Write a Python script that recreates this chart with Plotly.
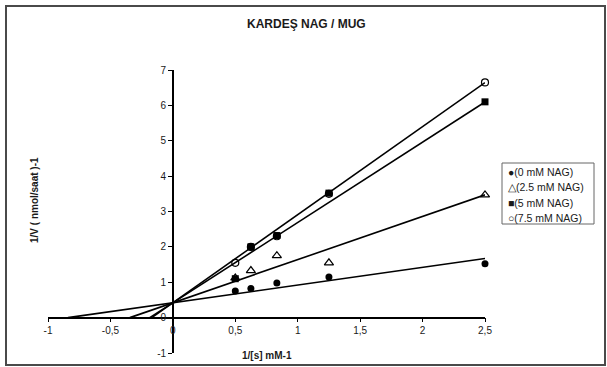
import plotly.graph_objects as go

# Lineweaver-Burk data: 1/[S] (mM^-1) vs 1/V ((nmol/saat)^-1)
inv_s = [0.5, 0.625, 0.833, 1.25, 2.5]
series_names = ["(0 mM NAG)", "(2.5 mM NAG)", "(5 mM NAG)", "(7.5 mM NAG)"]
inv_v_0 = [0.75, 0.82, 0.98, 1.15, 1.52]
inv_v_25 = [1.12, 1.33, 1.75, 1.55, 3.47]
inv_v_5 = [1.10, 2.00, 2.32, 3.52, 6.10]
inv_v_75 = [1.55, 2.00, 2.30, 3.50, 6.65]

# Linear trendlines (common 1/Vmax intercept, slope per inhibitor level)
fit_intercept = 0.42
fit_slopes = [0.50, 1.22, 2.27, 2.49]
fit_x_end = 2.5

x_ticks = [-1, -0.5, 0, 0.5, 1, 1.5, 2, 2.5]
y_ticks = [-1, 0, 1, 2, 3, 4, 5, 6, 7]
x_range = [-1, 2.5]
y_range = [-1, 7]

W, H = 607, 367
ML, MR, MT, MB = 48, 122, 70, 14
PW, PH = W - ML - MR, H - MT - MB


def px_x(px):
    return (px - ML) / PW


def px_y(py):
    return (H - MB - py) / PH


FONT = "Liberation Sans, Arial, sans-serif"
INK = "#1a1a1a"

styles = [
    dict(symbol="circle", size=7, color="black", line=dict(width=0)),
    dict(symbol="triangle-up-open", size=8, color="black", line=dict(width=1.2)),
    dict(symbol="square", size=7, color="black", line=dict(width=0)),
    dict(symbol="circle-open", size=7, color="black", line=dict(width=1.2)),
]
legend_glyphs = ["\u25CF", "\u25B3", "\u25A0", "\u25CB"]

fig = go.Figure()

for slope in fit_slopes:
    x0 = -fit_intercept / slope
    xs = [x0, fit_x_end]
    ys = [fit_intercept + slope * x for x in xs]
    fig.add_trace(go.Scatter(x=xs, y=ys, mode="lines",
                             line=dict(color="black", width=1.6),
                             showlegend=False, hoverinfo="skip"))

for name, ys, st in zip(series_names, [inv_v_0, inv_v_25, inv_v_5, inv_v_75], styles):
    fig.add_trace(go.Scatter(x=inv_s, y=ys, mode="markers", name=name,
                             marker=st, showlegend=False, cliponaxis=False))


def fmt(v):
    return f"{v:g}".replace(".", ",")


x_frac0 = (0 - x_range[0]) / (x_range[1] - x_range[0])
y_frac0 = (0 - y_range[0]) / (y_range[1] - y_range[0])

fig.update_layout(
    width=W, height=H,
    margin=dict(l=ML, r=MR, t=MT, b=MB, autoexpand=False),
    paper_bgcolor="white", plot_bgcolor="white",
    font=dict(family=FONT, size=10, color=INK),
    showlegend=False,
    xaxis=dict(range=x_range, anchor="free", position=y_frac0,
               showline=True, linecolor="black", linewidth=1.5,
               ticks="outside", ticklen=4, tickwidth=1.2, tickcolor="black",
               tickvals=x_ticks, ticktext=[fmt(v) for v in x_ticks],
               showgrid=False, zeroline=False, automargin=False,
               tickfont=dict(size=10, color=INK)),
    yaxis=dict(range=y_range, anchor="free", position=x_frac0,
               showline=True, linecolor="black", linewidth=1.5,
               ticks="outside", ticklen=4, tickwidth=1.2, tickcolor="black",
               tickvals=y_ticks, ticktext=[fmt(v) for v in y_ticks],
               showgrid=False, zeroline=False, automargin=False,
               tickfont=dict(size=10, color=INK)),
)

annotations = [
    dict(text="<b>KARDEŞ NAG / MUG</b>", x=px_x(306), y=px_y(24),
         font=dict(size=12, color=INK)),
    dict(text="<b>1/[s] mM-1</b>", x=px_x(267), y=px_y(355),
         font=dict(size=10, color=INK)),
    dict(text="<b>1/V ( nmol/saat )-1</b>", x=px_x(34), y=px_y(200),
         textangle=-90, font=dict(size=10, color=INK)),
]
row_y = [172, 187, 203, 218]
for glyph, name, ry in zip(legend_glyphs, series_names, row_y):
    annotations.append(dict(text=f"{glyph}{name}", x=px_x(506), y=px_y(ry),
                            xanchor="left", font=dict(size=10.5, color=INK)))
for a in annotations:
    a.setdefault("xref", "paper")
    a.setdefault("yref", "paper")
    a.setdefault("xanchor", "center")
    a.setdefault("yanchor", "middle")
    a.setdefault("showarrow", False)
fig.update_layout(annotations=annotations)

fig.update_layout(shapes=[
    dict(type="rect", xref="paper", yref="paper",
         x0=px_x(6), x1=px_x(605), y0=px_y(365), y1=px_y(6),
         line=dict(color="#4a4a4a", width=2), layer="below"),
    dict(type="rect", xref="paper", yref="paper",
         x0=px_x(502), x1=px_x(594), y0=px_y(224), y1=px_y(163),
         line=dict(color="#666666", width=1), layer="below"),
])

fig.write_html("out.html")
